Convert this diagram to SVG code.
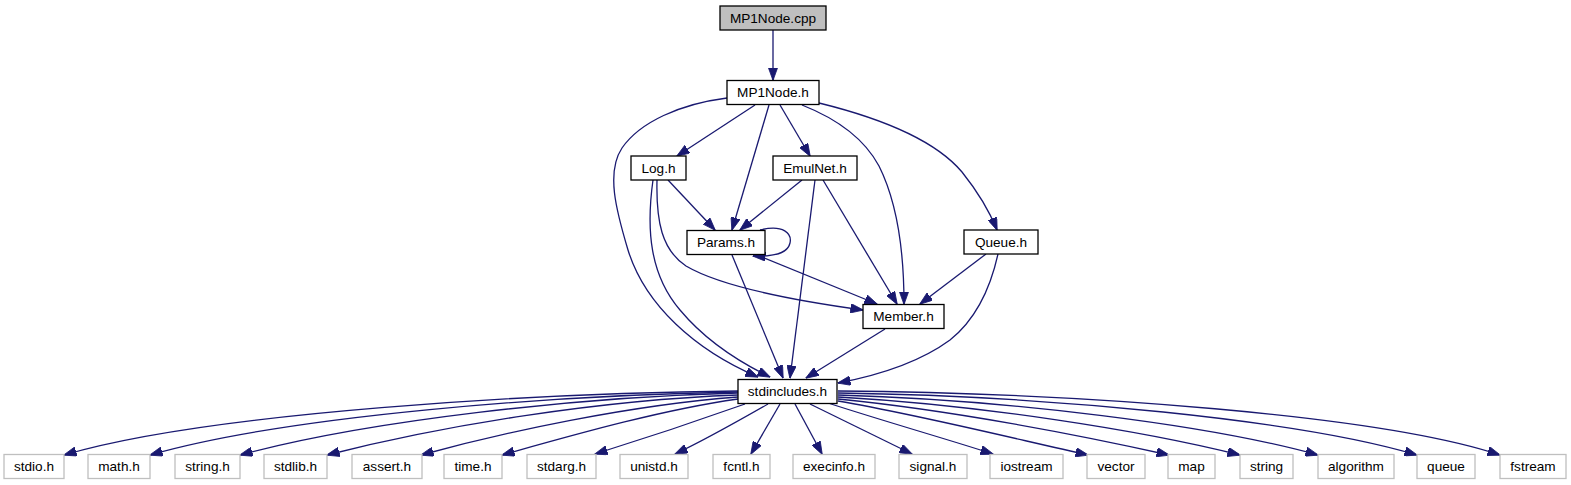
<svg xmlns="http://www.w3.org/2000/svg" width="1571" height="485" viewBox="0 0 1571 485">
<style>
.n rect{fill:#ffffff;stroke:#000000;stroke-width:1.3}
.n.root rect{fill:#bfbfbf}
.n.ext rect{stroke:#bfbfbf}
.n text{font-family:"Liberation Sans",Arial,Helvetica,sans-serif;font-size:13.6px;text-anchor:middle;fill:#000000}
#edges path{fill:none;stroke:#191970;stroke-width:1.3;marker-end:url(#arr)}
</style>
<defs>
<marker id="arr" markerUnits="userSpaceOnUse" viewBox="0 0 13 9.4" refX="12.5" refY="4.7" markerWidth="13" markerHeight="9.4" orient="auto">
<path d="M0,0 L13,4.7 L0,9.4 z" fill="#191970" stroke="#191970" stroke-width="0.8"/>
</marker>
</defs>
<rect width="1571" height="485" fill="#ffffff"/>
<g id="edges">
<path d="M773,30 L773,80"/>
<path d="M727,98 C 680,104 640,122 622,148 C 606,172 616,210 628,250 C 645,305 695,350 758,377"/>
<path d="M755,105 L677,156"/>
<path d="M769,105 L732,230"/>
<path d="M780,105 L810,156"/>
<path d="M802,105 C 840,120 865,140 879,166 C 896,200 904,250 904,304"/>
<path d="M819,103 C 880,118 935,140 962,172 C 978,192 989,210 997,230"/>
<path d="M668,180 L715,230"/>
<path d="M802,180 L740,230"/>
<path d="M760,230 C 784,224 792,234 790,243 C 788,252 778,257 753,256"/>
<path d="M762,257 L877,304"/>
<path d="M653,180 C 646,230 650,275 680,310 C 705,340 735,360 770,377"/>
<path d="M657,180 C 656,222 662,250 686,266 C 720,286 790,300 863,310"/>
<path d="M815,180 L790,378"/>
<path d="M823,180 L897,304"/>
<path d="M732,255 L783,378"/>
<path d="M885,329 L806,378"/>
<path d="M986,254 L920,304"/>
<path d="M998,254 C 990,290 975,320 950,340 C 920,362 880,375 838,383"/>
<path d="M738,391 C 540,393 210,412 64,455"/>
<path d="M738,392 C 560,395 290,415 150,455"/>
<path d="M738,393 C 580,397 370,420 240,455"/>
<path d="M738,395 C 600,400 445,425 327,455"/>
<path d="M738,397 C 630,405 505,432 421,455"/>
<path d="M738,399 C 660,410 570,436 502,455"/>
<path d="M745,404 C 700,420 640,440 595,454"/>
<path d="M768,404 C 740,420 705,440 675,454"/>
<path d="M780,404 L751,454"/>
<path d="M795,404 L822,454"/>
<path d="M810,404 L912,454"/>
<path d="M828,403 C 880,420 950,440 993,454"/>
<path d="M838,401 C 920,415 1020,440 1088,455"/>
<path d="M838,399 C 950,410 1080,435 1169,455"/>
<path d="M838,397 C 980,405 1140,430 1240,455"/>
<path d="M838,395 C 1010,400 1210,425 1318,455"/>
<path d="M838,393 C 1050,396 1300,420 1417,455"/>
<path d="M838,391 C 1080,393 1380,415 1500,455"/>
</g>
<g id="node-mp1node-cpp" class="n root"><rect x="720" y="6" width="106" height="24"/><text x="773" y="22.7">MP1Node.cpp</text></g>
<g id="node-mp1node-h" class="n"><rect x="727" y="80.5" width="92" height="24"/><text x="773" y="97.2">MP1Node.h</text></g>
<g id="node-log-h" class="n"><rect x="631" y="156" width="55" height="24"/><text x="658.5" y="172.7">Log.h</text></g>
<g id="node-emulnet-h" class="n"><rect x="773" y="156" width="84" height="24"/><text x="815" y="172.7">EmulNet.h</text></g>
<g id="node-params-h" class="n"><rect x="687" y="230.5" width="78" height="24"/><text x="726" y="247.2">Params.h</text></g>
<g id="node-queue-h" class="n"><rect x="964" y="230" width="74" height="24"/><text x="1001" y="246.7">Queue.h</text></g>
<g id="node-member-h" class="n"><rect x="863" y="304.5" width="81" height="24"/><text x="903.5" y="321.2">Member.h</text></g>
<g id="node-stdincludes-h" class="n"><rect x="738" y="379.5" width="99" height="24"/><text x="787.5" y="396.2">stdincludes.h</text></g>
<g id="node-stdio-h" class="n ext"><rect x="4" y="454.5" width="60" height="24"/><text x="34" y="471.2">stdio.h</text></g>
<g id="node-math-h" class="n ext"><rect x="88" y="454.5" width="62" height="24"/><text x="119" y="471.2">math.h</text></g>
<g id="node-string-h" class="n ext"><rect x="175" y="454.5" width="65" height="24"/><text x="207.5" y="471.2">string.h</text></g>
<g id="node-stdlib-h" class="n ext"><rect x="264" y="454.5" width="63" height="24"/><text x="295.5" y="471.2">stdlib.h</text></g>
<g id="node-assert-h" class="n ext"><rect x="352" y="454.5" width="70" height="24"/><text x="387" y="471.2">assert.h</text></g>
<g id="node-time-h" class="n ext"><rect x="444" y="454.5" width="58" height="24"/><text x="473" y="471.2">time.h</text></g>
<g id="node-stdarg-h" class="n ext"><rect x="527" y="454.5" width="69" height="24"/><text x="561.5" y="471.2">stdarg.h</text></g>
<g id="node-unistd-h" class="n ext"><rect x="620" y="454.5" width="68" height="24"/><text x="654" y="471.2">unistd.h</text></g>
<g id="node-fcntl-h" class="n ext"><rect x="713" y="454.5" width="57" height="24"/><text x="741.5" y="471.2">fcntl.h</text></g>
<g id="node-execinfo-h" class="n ext"><rect x="793" y="454.5" width="82" height="24"/><text x="834" y="471.2">execinfo.h</text></g>
<g id="node-signal-h" class="n ext"><rect x="899" y="454.5" width="68" height="24"/><text x="933" y="471.2">signal.h</text></g>
<g id="node-iostream" class="n ext"><rect x="990" y="454.5" width="73" height="24"/><text x="1026.5" y="471.2">iostream</text></g>
<g id="node-vector" class="n ext"><rect x="1087" y="454.5" width="58" height="24"/><text x="1116" y="471.2">vector</text></g>
<g id="node-map" class="n ext"><rect x="1168" y="454.5" width="47" height="24"/><text x="1191.5" y="471.2">map</text></g>
<g id="node-string" class="n ext"><rect x="1240" y="454.5" width="53" height="24"/><text x="1266.5" y="471.2">string</text></g>
<g id="node-algorithm" class="n ext"><rect x="1318" y="454.5" width="76" height="24"/><text x="1356" y="471.2">algorithm</text></g>
<g id="node-queue" class="n ext"><rect x="1417" y="454.5" width="58" height="24"/><text x="1446" y="471.2">queue</text></g>
<g id="node-fstream" class="n ext"><rect x="1500" y="454.5" width="66" height="24"/><text x="1533" y="471.2">fstream</text></g>
</svg>
